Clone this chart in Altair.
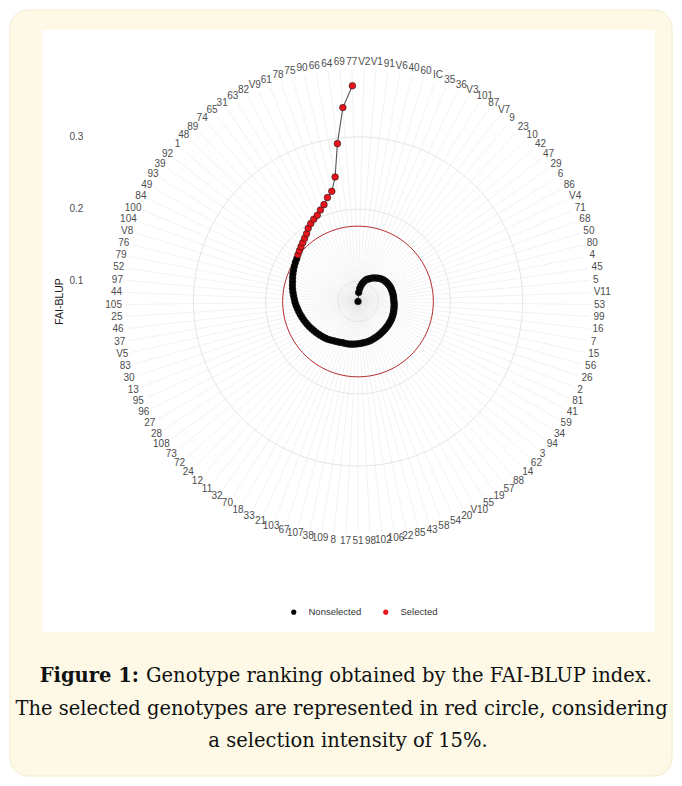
import altair as alt
import pandas as pd

# Genotypes in clockwise order from the top (ascending FAI-BLUP)
genotypes = ["V2", "V1", "91", "V6", "40", "60", "IC", "35", "36", "V3",
             "101", "87", "V7", "9", "23", "10", "42", "47", "29", "6",
             "86", "V4", "71", "68", "50", "80", "4", "45", "5", "V11",
             "53", "99", "16", "7", "15", "56", "26", "2", "81", "41",
             "59", "34", "94", "3", "62", "14", "88", "57", "19", "55",
             "V10", "20", "54", "58", "43", "85", "22", "106", "102", "98",
             "51", "17", "8", "109", "38", "107", "67", "103", "21", "33",
             "18", "70", "32", "11", "12", "24", "72", "73", "108", "28",
             "27", "96", "95", "13", "30", "83", "V5", "37", "46", "25",
             "105", "44", "97", "52", "79", "76", "V8", "104", "100", "84",
             "49", "93", "39", "92", "1", "48", "89", "74", "65", "31",
             "63", "82", "V9", "61", "78", "75", "90", "66", "64", "69", "77"]

fai_blup = [0.0723, 0.0848, 0.0903, 0.0944, 0.0979, 0.1007, 0.1034, 0.1055, 0.1069, 0.1083,
            0.1103, 0.1117, 0.1131, 0.1145, 0.1159, 0.1173, 0.1182, 0.1190, 0.1196, 0.1202,
            0.1206, 0.1210, 0.1213, 0.1214, 0.1215, 0.1217, 0.1217, 0.1218, 0.1218, 0.1218,
            0.1221, 0.1224, 0.1226, 0.1229, 0.1232, 0.1235, 0.1238, 0.1240, 0.1243, 0.1246,
            0.1247, 0.1249, 0.1251, 0.1253, 0.1255, 0.1257, 0.1260, 0.1262, 0.1265, 0.1269,
            0.1273, 0.1276, 0.1280, 0.1285, 0.1290, 0.1293, 0.1296, 0.1298, 0.1301, 0.1304,
            0.1308, 0.1312, 0.1316, 0.1320, 0.1325, 0.1327, 0.1330, 0.1332, 0.1340, 0.1348,
            0.1356, 0.1366, 0.1379, 0.1392, 0.1402, 0.1412, 0.1423, 0.1433, 0.1444, 0.1455,
            0.1467, 0.1480, 0.1492, 0.1504, 0.1517, 0.1529, 0.1542, 0.1554, 0.1567, 0.1581,
            0.1594, 0.1605, 0.1618, 0.1632, 0.1646, 0.1658, 0.1670, 0.1686, 0.1701, 0.1715,
            0.1730, 0.1744, 0.1756, 0.1776, 0.1795, 0.1817, 0.1839, 0.1867, 0.1900, 0.1948,
            0.1983, 0.2015, 0.2042, 0.2091, 0.2143, 0.2221, 0.2289, 0.2474, 0.2925, 0.3413,
            0.3708]

n_selected = 18
cut_value = 0.1765
r_breaks = [0.1, 0.2, 0.3]
r_min = min(fai_blup)

status_labels = ["Nonselected", "Selected"]
status_colors = ["#000000", "#e8141b"]

caption_bold = "Figure 1:"
caption_line1 = "Genotype ranking obtained by the FAI-BLUP index."
caption_line2 = "The selected genotypes are represented in red circle, considering"
caption_line3 = "a selection intensity of 15%."

# ---- geometry -------------------------------------------------------------
N = len(genotypes)
PX = 723.0               # pixels per FAI-BLUP unit on the radial scale
CX, CY = 350.0, 293.5    # polar centre in chart pixels
W, H = 666, 770
R_SPOKE = 232.0 / PX
R_LABEL = 236.0 / PX

xs = alt.Scale(domain=[-CX / PX, (W - CX) / PX], nice=False, zero=False)
ys = alt.Scale(domain=[(CY - H) / PX, CY / PX], nice=False, zero=False)

df = pd.DataFrame({
    "genotype": genotypes,
    "value": fai_blup,
    "idx": list(range(1, N + 1)),
    "status": [status_labels[1] if i > N - n_selected else status_labels[0]
               for i in range(1, N + 1)],
})

theta_expr = f"2*PI*(datum.idx-0.5)/{N}"
base = alt.Chart(df).transform_calculate(theta=theta_expr)

noax = dict(axis=None)

# background boxes
one = pd.DataFrame({"a": [0]})
cream = alt.Chart(one).mark_rect(
    fill="#fdf9e6", stroke="#f3ebcb", strokeWidth=1, cornerRadius=18
).encode(x=alt.value(2), x2=alt.value(664), y=alt.value(2), y2=alt.value(768))
panel = alt.Chart(one).mark_rect(fill="#ffffff").encode(
    x=alt.value(34), x2=alt.value(647), y=alt.value(22), y2=alt.value(624))

# spokes
spokes = base.transform_calculate(
    z="0",
    sx=f"{R_SPOKE}*sin(datum.theta)",
    sy=f"{R_SPOKE}*cos(datum.theta)",
).mark_rule(color="#e4e4e4", strokeWidth=0.5).encode(
    x=alt.X("z:Q", scale=xs, **noax), y=alt.Y("z:Q", scale=ys, **noax),
    x2="sx:Q", y2="sy:Q")

# radial grid circles (and the cut circle) drawn through every genotype angle
ring_df = pd.DataFrame([{"idx": i, "brk": b} for b in r_breaks for i in range(1, N + 2)])
grid = alt.Chart(ring_df).transform_calculate(
    theta=theta_expr,
    gx=f"(datum.brk-{r_min})*sin(datum.theta)",
    gy=f"(datum.brk-{r_min})*cos(datum.theta)",
).mark_line(color="#e2e2e2", strokeWidth=0.9).encode(
    x=alt.X("gx:Q", scale=xs, **noax), y=alt.Y("gy:Q", scale=ys, **noax),
    detail="brk:N", order="idx:Q")

cut_df = pd.DataFrame({"idx": list(range(1, N + 2))})
cut = alt.Chart(cut_df).transform_calculate(
    theta=theta_expr,
    cx=f"({cut_value}-{r_min})*sin(datum.theta)",
    cy=f"({cut_value}-{r_min})*cos(datum.theta)",
).mark_line(color="#b52a2a", strokeWidth=1).encode(
    x=alt.X("cx:Q", scale=xs, **noax), y=alt.Y("cy:Q", scale=ys, **noax),
    order="idx:Q")

pts_base = base.transform_calculate(
    px=f"(datum.value-{r_min})*sin(datum.theta)",
    py=f"(datum.value-{r_min})*cos(datum.theta)",
)

path = pts_base.mark_line(color="#555555", strokeWidth=1.1).encode(
    x=alt.X("px:Q", scale=xs, **noax), y=alt.Y("py:Q", scale=ys, **noax),
    order="idx:Q")

points = pts_base.mark_circle(size=44, opacity=1, stroke="#1a1a1a", strokeWidth=0.6).encode(
    x=alt.X("px:Q", scale=xs, **noax), y=alt.Y("py:Q", scale=ys, **noax),
    color=alt.Color("status:N",
                    scale=alt.Scale(domain=status_labels, range=status_colors),
                    legend=alt.Legend(orient="none", legendX=281, legendY=599,
                                      direction="horizontal", title=None,
                                      labelFontSize=9.5, labelColor="#333333",
                                      labelFont="Liberation Sans",
                                      symbolSize=26, symbolType="circle",
                                      symbolStrokeWidth=0, labelOffset=10,
                                      columnPadding=19, padding=0)),
    order="idx:Q")

# genotype labels around the circle
labels = base.transform_calculate(
    w=f"length(datum.genotype)*5.6/{PX}",
    lx=f"({R_LABEL}+datum.w/2)*sin(datum.theta)",
    ly=f"({R_LABEL}+3.8/{PX})*cos(datum.theta)",
).mark_text(fontSize=10, font="Liberation Sans", color="#4d4d4d",
            align="center", baseline="middle").encode(
    x=alt.X("lx:Q", scale=xs, **noax), y=alt.Y("ly:Q", scale=ys, **noax),
    text="genotype:N")

# radial axis labels and title
rdf = pd.DataFrame({"brk": r_breaks})
rlab = alt.Chart(rdf).transform_calculate(
    ax=f"{(75.3 - CX) / PX}",
    ay=f"datum.brk-{r_min}",
    t="format(datum.brk, '.1f')",
).mark_text(fontSize=10, font="Liberation Sans", color="#4d4d4d",
            align="right", baseline="middle").encode(
    x=alt.X("ax:Q", scale=xs, **noax), y=alt.Y("ay:Q", scale=ys, **noax),
    text="t:N")

rtitle = alt.Chart(one).mark_text(
    text="FAI-BLUP", fontSize=10.5, font="Liberation Sans", color="#1a1a1a",
    angle=270, align="center", baseline="middle").encode(
    x=alt.X(datum=(52 - CX) / PX, type="quantitative", scale=xs, **noax),
    y=alt.Y(datum=0.0, type="quantitative", scale=ys, **noax))

# caption
cap_font = "DejaVu Serif"
cap_size = 19.5
cap1b = alt.Chart(one).mark_text(
    text=caption_bold, font=cap_font, fontSize=cap_size, fontWeight="bold",
    color="#111111", align="right", baseline="middle").encode(
    x=alt.value(131), y=alt.value(668))
cap1 = alt.Chart(one).mark_text(
    text=caption_line1, font=cap_font, fontSize=cap_size,
    color="#111111", align="left", baseline="middle").encode(
    x=alt.value(138), y=alt.value(668))
cap2 = alt.Chart(one).mark_text(
    text=caption_line2, font=cap_font, fontSize=cap_size,
    color="#111111", align="center", baseline="middle").encode(
    x=alt.value(333.5), y=alt.value(701))
cap3 = alt.Chart(one).mark_text(
    text=caption_line3, font=cap_font, fontSize=cap_size,
    color="#111111", align="center", baseline="middle").encode(
    x=alt.value(340), y=alt.value(733))

chart = alt.layer(
    cream, panel, spokes, grid, cut, path, points, labels, rlab, rtitle,
    cap1b, cap1, cap2, cap3
).properties(
    width=W, height=H, padding=0, background="#ffffff",
    autosize=alt.AutoSizeParams(type="none")
).configure_view(strokeWidth=0)

chart.save("out.html", embed_options={"renderer": "svg", "actions": False})
